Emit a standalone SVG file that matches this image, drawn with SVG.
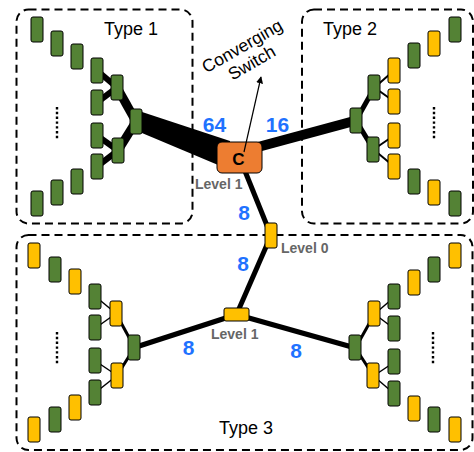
<svg xmlns="http://www.w3.org/2000/svg" width="474" height="452" viewBox="0 0 474 452">
  <style>
    .bg { fill: #ffffff; }
    .grp { fill: none; stroke: #000; stroke-width: 2; stroke-dasharray: 8 5; }
    .n rect { stroke: #000; stroke-width: 1; }
    .g rect { fill: #548235; }
    .y rect { fill: #FFC000; }
    .o rect { fill: #ED7D31; }
    .lnk { stroke: #000; stroke-linecap: butt; fill: none; }
    .dots { stroke: #000; stroke-width: 2.4; stroke-dasharray: 2.4 2.4; }
    .title { font-family: "Liberation Sans", Arial, sans-serif; font-size: 18px; fill: #000; }
    .num { font-family: "Liberation Sans", Arial, sans-serif; font-size: 21px; font-weight: bold; fill: #1F72FF; text-anchor: middle; }
    .lvl { font-family: "Liberation Sans", Arial, sans-serif; font-size: 14px; font-weight: bold; fill: #666666; }
    .note { font-family: "Liberation Sans", Arial, sans-serif; font-size: 17.5px; fill: #000; text-anchor: middle; }
  </style>
  <defs>
    <marker id="head" viewBox="0 0 10 10" refX="9" refY="5" markerWidth="7" markerHeight="7" orient="auto" markerUnits="userSpaceOnUse">
      <path d="M0,0 L10,5 L0,10 z" fill="#000"/>
    </marker>
  </defs>

  <rect class="bg" x="0" y="0" width="474" height="452"/>

  <!-- dashed group frames -->
  <g id="groups">
    <rect id="type1-frame" class="grp" x="16.5" y="9.5" width="176" height="214" rx="12"/>
    <rect id="type2-frame" class="grp" x="302" y="9.5" width="171" height="214" rx="12"/>
    <rect id="type3-frame" class="grp" x="16.5" y="235" width="456" height="215" rx="12"/>
    <text class="title" x="104" y="35">Type 1</text>
    <text class="title" x="323" y="35">Type 2</text>
    <text class="title" x="219" y="434">Type 3</text>
  </g>

  <!-- connectors -->
  <g id="connectors">
    <!-- type 1 tree (heavy) -->
    <line class="lnk" stroke-width="6" x1="97" y1="70.5" x2="117" y2="87.5"/>
    <line class="lnk" stroke-width="6" x1="97" y1="102.5" x2="117" y2="87.5"/>
    <line class="lnk" stroke-width="6" x1="97" y1="135.5" x2="118" y2="150.5"/>
    <line class="lnk" stroke-width="6" x1="97" y1="166.5" x2="118" y2="150.5"/>
    <line class="lnk" stroke-width="9" x1="117" y1="87.5" x2="136" y2="121.5"/>
    <line class="lnk" stroke-width="9" x1="118" y1="150.5" x2="136" y2="121.5"/>
    <polygon points="136,110 230,141 230,170 136,130.5" fill="#000"/>
    <!-- C to type 2 -->
    <line class="lnk" stroke-width="10" x1="239.5" y1="152" x2="356" y2="120.5"/>
    <line class="lnk" stroke-width="5" x1="356" y1="120.5" x2="374.5" y2="87.5"/>
    <line class="lnk" stroke-width="5" x1="356" y1="120.5" x2="373.5" y2="149.5"/>
    <line class="lnk" stroke-width="2" x1="374.5" y1="87.5" x2="394" y2="70.5"/>
    <line class="lnk" stroke-width="2" x1="374.5" y1="87.5" x2="394" y2="101.5"/>
    <line class="lnk" stroke-width="2" x1="373.5" y1="149.5" x2="394" y2="135.5"/>
    <line class="lnk" stroke-width="2" x1="373.5" y1="149.5" x2="394" y2="166.5"/>
    <!-- spine: C, level 0, level 1 -->
    <line class="lnk" stroke-width="5" x1="239.5" y1="157.5" x2="271" y2="235.5"/>
    <line class="lnk" stroke-width="5" x1="271" y1="235.5" x2="236.5" y2="314.5"/>
    <line class="lnk" stroke-width="5" x1="236.5" y1="314.5" x2="134.5" y2="347.5"/>
    <line class="lnk" stroke-width="5" x1="236.5" y1="314.5" x2="355.5" y2="348"/>
    <!-- type 3 left tree -->
    <line class="lnk" stroke-width="3" x1="134.5" y1="347.5" x2="116" y2="313.5"/>
    <line class="lnk" stroke-width="3" x1="134.5" y1="347.5" x2="117" y2="375.5"/>
    <line class="lnk" stroke-width="1.5" x1="116" y1="313.5" x2="95.5" y2="296.5"/>
    <line class="lnk" stroke-width="1.5" x1="116" y1="313.5" x2="95.5" y2="328"/>
    <line class="lnk" stroke-width="1.5" x1="117" y1="375.5" x2="95.5" y2="361"/>
    <line class="lnk" stroke-width="1.5" x1="117" y1="375.5" x2="95.5" y2="392.5"/>
    <!-- type 3 right tree -->
    <line class="lnk" stroke-width="3" x1="355.5" y1="348" x2="374.5" y2="314"/>
    <line class="lnk" stroke-width="3" x1="355.5" y1="348" x2="373.5" y2="376"/>
    <line class="lnk" stroke-width="1.5" x1="374.5" y1="314" x2="394.5" y2="297"/>
    <line class="lnk" stroke-width="1.5" x1="374.5" y1="314" x2="394.5" y2="329"/>
    <line class="lnk" stroke-width="1.5" x1="373.5" y1="376" x2="394.5" y2="362"/>
    <line class="lnk" stroke-width="1.5" x1="373.5" y1="376" x2="394.5" y2="394"/>
  </g>

  <!-- ellipsis dots -->
  <g id="ellipses">
    <line class="dots" x1="57" y1="107" x2="57" y2="140"/>
    <line class="dots" x1="434" y1="107" x2="434" y2="140"/>
    <line class="dots" x1="57" y1="332" x2="57" y2="365"/>
    <line class="dots" x1="433" y1="332" x2="433" y2="365"/>
  </g>

  <!-- type 1 switches -->
  <g id="t1-leaf-1" class="n g"><rect x="31" y="17" width="12" height="25" rx="2"/></g>
  <g id="t1-leaf-2" class="n g"><rect x="51" y="31" width="12" height="25" rx="2"/></g>
  <g id="t1-leaf-3" class="n g"><rect x="71" y="44" width="12" height="25" rx="2"/></g>
  <g id="t1-leaf-4" class="n g"><rect x="91" y="58" width="12" height="25" rx="2"/></g>
  <g id="t1-leaf-5" class="n g"><rect x="91" y="90" width="12" height="25" rx="2"/></g>
  <g id="t1-leaf-6" class="n g"><rect x="91" y="123" width="12" height="25" rx="2"/></g>
  <g id="t1-leaf-7" class="n g"><rect x="91" y="154" width="12" height="25" rx="2"/></g>
  <g id="t1-leaf-8" class="n g"><rect x="71" y="169" width="12" height="25" rx="2"/></g>
  <g id="t1-leaf-9" class="n g"><rect x="51" y="180" width="12" height="25" rx="2"/></g>
  <g id="t1-leaf-10" class="n g"><rect x="31" y="191" width="12" height="25" rx="2"/></g>
  <g id="t1-mid-1" class="n g"><rect x="111" y="75" width="12" height="25" rx="2"/></g>
  <g id="t1-mid-2" class="n g"><rect x="112" y="138" width="12" height="25" rx="2"/></g>
  <g id="t1-root" class="n g"><rect x="130" y="109" width="12" height="25" rx="2"/></g>

  <!-- type 2 switches -->
  <g id="t2-root" class="n g"><rect x="350" y="108" width="12" height="25" rx="2"/></g>
  <g id="t2-mid-1" class="n g"><rect x="368" y="75" width="12" height="25" rx="2"/></g>
  <g id="t2-mid-2" class="n g"><rect x="367" y="137" width="12" height="25" rx="2"/></g>
  <g id="t2-leaf-1" class="n y"><rect x="388" y="58" width="12" height="25" rx="2"/></g>
  <g id="t2-leaf-2" class="n y"><rect x="388" y="89" width="12" height="25" rx="2"/></g>
  <g id="t2-leaf-3" class="n y"><rect x="388" y="123" width="12" height="25" rx="2"/></g>
  <g id="t2-leaf-4" class="n y"><rect x="388" y="154" width="12" height="25" rx="2"/></g>
  <g id="t2-leaf-5" class="n g"><rect x="408" y="43" width="12" height="25" rx="2"/></g>
  <g id="t2-leaf-6" class="n y"><rect x="428" y="31" width="12" height="25" rx="2"/></g>
  <g id="t2-leaf-7" class="n g"><rect x="449" y="17" width="12" height="25" rx="2"/></g>
  <g id="t2-leaf-8" class="n g"><rect x="408" y="169" width="12" height="25" rx="2"/></g>
  <g id="t2-leaf-9" class="n y"><rect x="428" y="180" width="12" height="25" rx="2"/></g>
  <g id="t2-leaf-10" class="n g"><rect x="449" y="191" width="12" height="25" rx="2"/></g>

  <!-- type 3 left switches -->
  <g id="t3l-root" class="n g"><rect x="128" y="335" width="12" height="25" rx="2"/></g>
  <g id="t3l-mid-1" class="n y"><rect x="110" y="301" width="12" height="25" rx="2"/></g>
  <g id="t3l-mid-2" class="n y"><rect x="111" y="363" width="12" height="25" rx="2"/></g>
  <g id="t3l-leaf-1" class="n g"><rect x="89" y="284" width="12" height="25" rx="2"/></g>
  <g id="t3l-leaf-2" class="n g"><rect x="89" y="315" width="12" height="25" rx="2"/></g>
  <g id="t3l-leaf-3" class="n g"><rect x="89" y="348" width="12" height="25" rx="2"/></g>
  <g id="t3l-leaf-4" class="n g"><rect x="89" y="380" width="12" height="25" rx="2"/></g>
  <g id="t3l-leaf-5" class="n y"><rect x="69" y="269" width="12" height="25" rx="2"/></g>
  <g id="t3l-leaf-6" class="n g"><rect x="49" y="257" width="12" height="25" rx="2"/></g>
  <g id="t3l-leaf-7" class="n y"><rect x="28" y="243" width="12" height="25" rx="2"/></g>
  <g id="t3l-leaf-8" class="n y"><rect x="69" y="395" width="12" height="25" rx="2"/></g>
  <g id="t3l-leaf-9" class="n g"><rect x="49" y="407" width="12" height="25" rx="2"/></g>
  <g id="t3l-leaf-10" class="n y"><rect x="28" y="417" width="12" height="25" rx="2"/></g>

  <!-- type 3 right switches -->
  <g id="t3r-root" class="n g"><rect x="349" y="335" width="12" height="25" rx="2"/></g>
  <g id="t3r-mid-1" class="n y"><rect x="368" y="301" width="12" height="25" rx="2"/></g>
  <g id="t3r-mid-2" class="n y"><rect x="367" y="363" width="12" height="25" rx="2"/></g>
  <g id="t3r-leaf-1" class="n g"><rect x="388" y="284" width="12" height="25" rx="2"/></g>
  <g id="t3r-leaf-2" class="n g"><rect x="388" y="316" width="12" height="25" rx="2"/></g>
  <g id="t3r-leaf-3" class="n g"><rect x="388" y="349" width="12" height="25" rx="2"/></g>
  <g id="t3r-leaf-4" class="n g"><rect x="388" y="381" width="12" height="25" rx="2"/></g>
  <g id="t3r-leaf-5" class="n y"><rect x="408" y="270" width="12" height="25" rx="2"/></g>
  <g id="t3r-leaf-6" class="n g"><rect x="428" y="257" width="12" height="25" rx="2"/></g>
  <g id="t3r-leaf-7" class="n y"><rect x="449" y="243" width="12" height="25" rx="2"/></g>
  <g id="t3r-leaf-8" class="n y"><rect x="408" y="396" width="12" height="25" rx="2"/></g>
  <g id="t3r-leaf-9" class="n g"><rect x="428" y="407" width="12" height="25" rx="2"/></g>
  <g id="t3r-leaf-10" class="n y"><rect x="449" y="417" width="12" height="25" rx="2"/></g>

  <!-- central switches -->
  <g id="converging-switch" class="n o">
    <rect x="217" y="142" width="45" height="31" rx="5"/>
    <text x="238.5" y="165" text-anchor="middle" font-family="Liberation Sans, Arial, sans-serif" font-size="17" font-weight="bold" fill="#000">C</text>
  </g>
  <g id="level0-switch" class="n y"><rect x="265" y="223" width="12" height="25" rx="2"/></g>
  <g id="level1-switch" class="n y"><rect x="224" y="308" width="25" height="13" rx="2"/></g>

  <!-- callout arrow, drawn over the switch it points from -->
  <g id="callout">
    <line class="lnk" stroke-width="1.2" x1="244" y1="152" x2="261" y2="77" marker-end="url(#head)"/>
  </g>

  <!-- labels -->
  <g id="labels">
    <text class="lvl" x="195" y="189">Level 1</text>
    <text class="lvl" x="281" y="253">Level 0</text>
    <text class="lvl" x="211" y="339">Level 1</text>
    <text class="num" x="214.5" y="132">64</text>
    <text class="num" x="277.5" y="132">16</text>
    <text class="num" x="244" y="220">8</text>
    <text class="num" x="243" y="271">8</text>
    <text class="num" x="188.5" y="355">8</text>
    <text class="num" x="296" y="358">8</text>
    <g transform="translate(247.4,55.2) rotate(-30)">
      <text class="note" x="0" y="-4.6">Converging</text>
      <text class="note" x="0" y="14.6">Switch</text>
    </g>
  </g>
</svg>
